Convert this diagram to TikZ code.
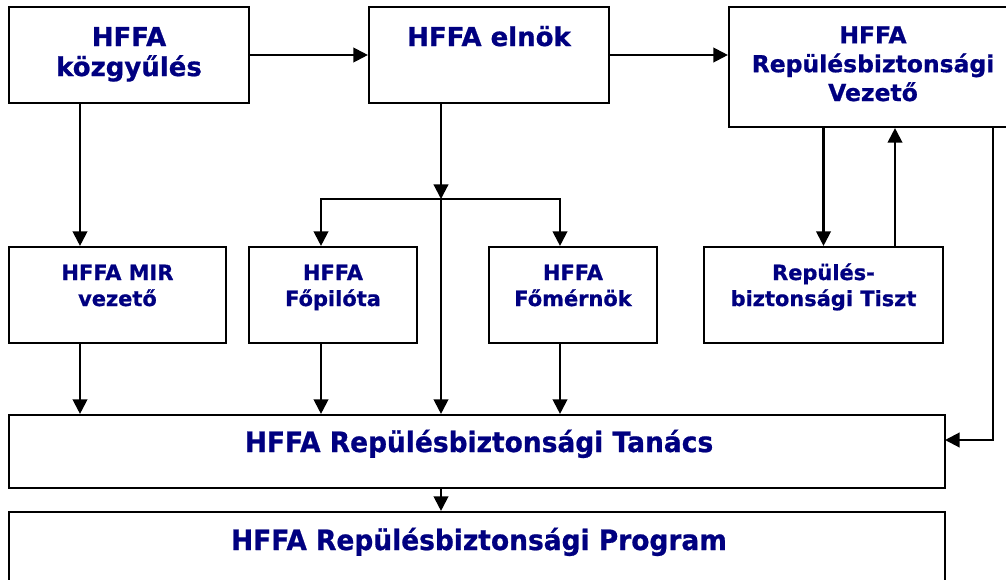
\documentclass[tikz,border=0pt]{standalone}
\usepackage{fontspec}
\setmainfont{DejaVu Sans}[BoldFeatures={FakeBold=0.8}]
\usepackage{graphicx}
\usetikzlibrary{arrows.meta,calc}
\definecolor{navy}{RGB}{0,0,128}
\begin{document}
\begin{tikzpicture}[x=0.75pt,y=-0.75pt,
  box/.style={draw=black, line width=1.6pt, inner sep=0pt, fill=white},
  bigtxt/.style={font=\bfseries\fontsize{19.5}{22.5}\selectfont, text=navy, align=center, inner sep=0pt, anchor=base},
  midtxt/.style={font=\bfseries\fontsize{17.6}{21.6}\selectfont, text=navy, align=center, inner sep=0pt, anchor=base},
  smalltxt/.style={font=\bfseries\fontsize{15.7}{19.5}\selectfont, text=navy, align=center, inner sep=0pt, anchor=base},
  widetxt/.style={font=\bfseries\fontsize{21}{24}\selectfont, text=navy, inner sep=0pt, anchor=base},
  conn/.style={draw=black, line width=1.6pt},
  arr/.style={conn, -{Triangle[length=11pt,width=11pt]}}
]
\clip (0,0) rectangle (1006,579);
\fill[white] (0,0) rectangle (1006,579);

% boxes
\node[box, minimum width=180pt, minimum height=72pt] (A) at (129,55) {};
\node[box, minimum width=180pt, minimum height=72pt] (B) at (489,55) {};
\node[box, minimum width=212.25pt, minimum height=90pt] (C) at (870.5,67) {};
\node[box, minimum width=162.75pt, minimum height=72pt] (D) at (117.5,295) {};
\node[box, minimum width=126pt, minimum height=72pt] (E) at (333,295) {};
\node[box, minimum width=126pt, minimum height=72pt] (F) at (573,295) {};
\node[box, minimum width=179.25pt, minimum height=72pt] (G) at (823.5,295) {};
\node[box, minimum width=702pt, minimum height=54.75pt] (T) at (477,451.5) {};
\node[box, minimum width=702pt, minimum height=60pt] (P) at (477,552) {};

% texts (anchor = baseline of the last line)
\node[bigtxt] (tA) at (129,76) {HFFA\\közgyűlés};
\node[bigtxt] (tB) at (489,46) {HFFA elnök};
\node[midtxt] (tC) at (873,101) {HFFA\\Repülésbiztonsági\\Vezető};
\node[smalltxt] (tD) at (117.5,306) {HFFA MIR\\vezető};
\node[smalltxt] (tE) at (333,306) {HFFA\\Főpilóta};
\node[smalltxt] (tF) at (573,306) {HFFA\\Főmérnök};
\node[smalltxt] (tG) at (823.5,306) {Repülés-\\biztonsági Tiszt};
\node[widetxt] (tT) at (479,452) {\scalebox{0.945}[1]{HFFA Repülésbiztonsági Tanács}};
\node[widetxt] (tP) at (479,550) {\scalebox{0.945}[1]{HFFA Repülésbiztonsági Program}};

% helper coordinates
\coordinate (xm) at (80,0);
\coordinate (xb) at (441,0);
\coordinate (xe) at (321,0);
\coordinate (xf) at (560,0);
\coordinate (xg) at (895,0);
\coordinate (xr) at (993,0);
\coordinate (J) at (441,199);
\coordinate (TR) at (945,440);

% connectors
\draw[arr] (A.east) -- (B.west);
\draw[arr] (B.east) -- (B.east -| C.west);
\draw[arr] (A.south -| xm) -- (D.north -| xm);
\draw[arr] (D.south -| xm) -- (T.north -| xm);
\draw[arr] (B.south -| xb) -- (J);
\draw[arr] (J) -- (T.north -| xb);
\draw[arr] (J) -| (E.north -| xe);
\draw[arr] (J) -| (F.north -| xf);
\draw[arr] (E.south -| xe) -- (T.north -| xe);
\draw[arr] (F.south -| xf) -- (T.north -| xf);
\draw[arr] (C.south -| G.north) -- (G.north);
\draw[arr] (G.north -| xg) -- (C.south -| xg);
\draw[arr] (C.south -| xr) |- (TR);
\draw[arr] (T.south -| xb) -- (P.north -| xb);
\end{tikzpicture}
\end{document}
